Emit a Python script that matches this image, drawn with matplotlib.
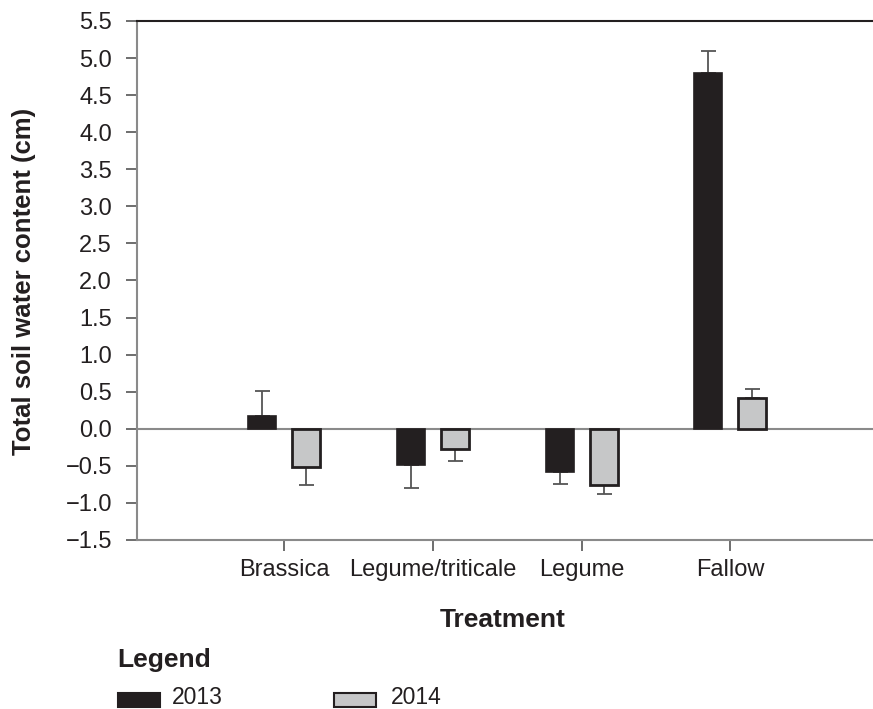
import matplotlib
matplotlib.use("Agg")
import matplotlib.pyplot as plt
from matplotlib.patches import Rectangle
import numpy as np

categories = ["Brassica", "Legume/triticale", "Legume", "Fallow"]
years = ["2013", "2014"]
values_2013 = [0.17, -0.49, -0.58, 4.80]
errors_2013 = [0.34, 0.31, 0.16, 0.29]
values_2014 = [-0.51, -0.27, -0.76, 0.42]
errors_2014 = [0.25, 0.16, 0.12, 0.11]
yticks = [-1.5, -1.0, -0.5, 0.0, 0.5, 1.0, 1.5, 2.0, 2.5, 3.0, 3.5, 4.0, 4.5, 5.0, 5.5]

DARK = "#231f20"
LIGHT = "#c6c7c8"
GRAY = "#8a8a8a"

plt.rcParams['font.family'] = ['Liberation Sans', 'DejaVu Sans']
fig = plt.figure(figsize=(8.73, 7.09), dpi=100)
ax = fig.add_axes([0.157, 0.2384, 0.843, 0.732])

x = np.arange(len(categories))
w = 0.188
off = 0.148

def errs(vals, es):
    lo = [e if v < 0 else 0 for v, e in zip(vals, es)]
    hi = [e if v >= 0 else 0 for v, e in zip(vals, es)]
    return [lo, hi]

ax.axhline(0, color=GRAY, lw=1.5, zorder=1)
ax.bar(x - off, values_2013, w, color=DARK, edgecolor=DARK, lw=1.2, zorder=3)
ax.bar(x + off, values_2014, w, color=LIGHT, edgecolor=DARK, lw=2.0, zorder=3)
ax.errorbar(x - off, values_2013, yerr=errs(values_2013, errors_2013), fmt='none',
            ecolor="#555555", elinewidth=1.3, capsize=5.4, capthick=1.3, zorder=2)
ax.errorbar(x + off, values_2014, yerr=errs(values_2014, errors_2014), fmt='none',
            ecolor="#555555", elinewidth=1.3, capsize=5.4, capthick=1.3, zorder=2)

ax.set_xlim(-0.99, 3.96)
ax.set_ylim(-1.5, 5.5)
ax.set_yticks(yticks)
ax.set_yticklabels([f"{t:.1f}".replace("-", "\u2212") for t in yticks], fontsize=17, color=DARK)
ax.set_xticks(x)
ax.set_xticklabels(categories, fontsize=17, color=DARK)
ax.tick_params(axis='y', direction='out', length=8, width=1.2, color="#555555", pad=10)
ax.tick_params(axis='x', direction='out', length=8, width=1.2, color="#555555", pad=6)

ax.spines['right'].set_visible(False)
for s in ['left', 'bottom']:
    ax.spines[s].set_color(GRAY)
    ax.spines[s].set_linewidth(1.5)
ax.spines['top'].set_color(DARK)
ax.spines['top'].set_linewidth(1.5)

fig.text(24 / 873, 0.6037, "Total soil water content (cm)", fontsize=18.5, fontweight='bold',
         rotation=90, ha='center', va='center', color=DARK)
fig.text(0.576, 0.1255, "Treatment", fontsize=19, fontweight='bold', ha='center', va='center', color=DARK)
fig.text(0.134, 0.069, "Legend", fontsize=19, fontweight='bold', ha='left', va='center', color=DARK)

legend_fc = [DARK, LIGHT]
patch_x = [118 / 873, 334 / 873]
text_x = [172 / 873, 391 / 873]
for yr, fc, px, tx in zip(years, legend_fc, patch_x, text_x):
    fig.patches.append(Rectangle((px, 0.0025), 42 / 873, 14 / 709, transform=fig.transFigure,
                                 facecolor=fc, edgecolor=DARK, lw=1.5, figure=fig))
    fig.text(tx, 0.0165, yr, fontsize=16.5, ha='left', va='center', color=DARK)

fig.savefig("out.png", dpi=100)
